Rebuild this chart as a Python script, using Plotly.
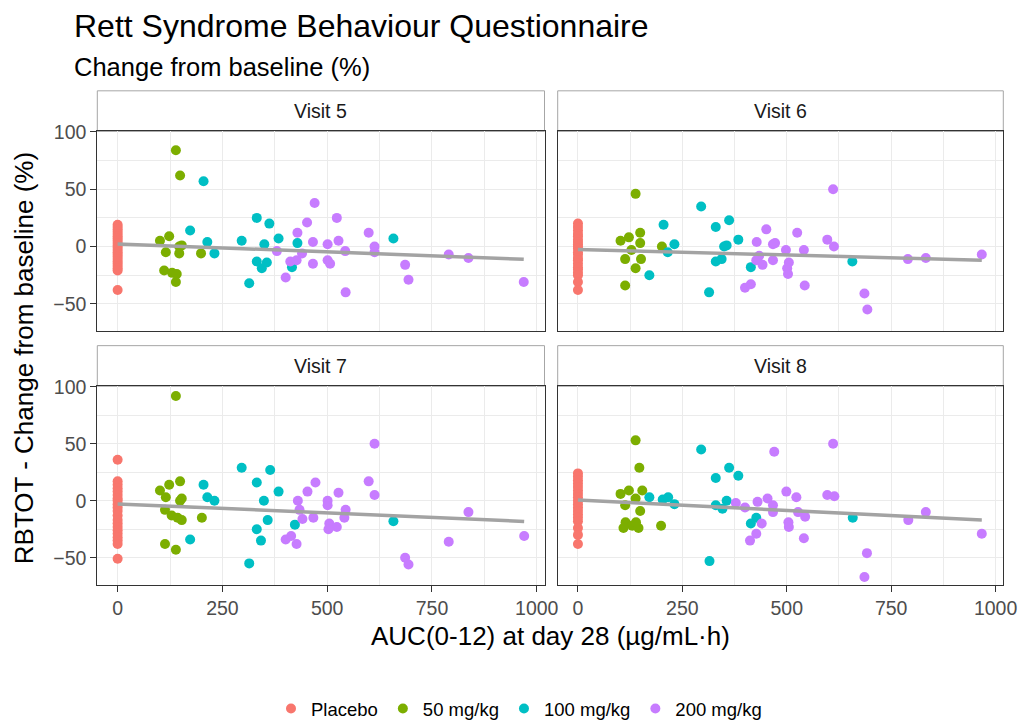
import numpy as np
import plotly.graph_objects as go

# ---------------------------------------------------------------------------
# Data: RBTOT change from baseline (%) against AUC(0-12) at day 28
# ---------------------------------------------------------------------------
visits = ["Visit 5", "Visit 6", "Visit 7", "Visit 8"]
groups = ["Placebo", "50 mg/kg", "100 mg/kg", "200 mg/kg"]
group_colors = ["#F8766D", "#7CAE00", "#00BFC4", "#C77CFF"]

# Placebo subjects have no exposure (AUC = 0); change values only
placebo_v5 = [19, 17, 15, 13, 11, 9, 7, 5, 3, 1, -1, -3, -5, -7, -9, -11, -13, -15, -17, -19, -21, -38]
placebo_v6 = [20, 17, 14, 11, 9, 6, 4, 2, 0, -2, -5, -7, -10, -12, -15, -18, -20, -23, -25, -31, -38]
placebo_v7 = [36, 17, 14, 11, 8, 5, 2, 0, -3, -6, -9, -13, -17, -20, -23, -26, -29, -32, -35, -38, -51]
placebo_v8 = [24, 21, 18, 15, 12, 9, 6, 3, 0, -3, -6, -9, -12, -15, -18, -24, -30, -38]

# Active doses: (AUC, change %) per subject
dose50_v5 = [(139, 84), (149, 62), (101, 5), (123, 9), (115, -5), (147, 0), (153, 1), (147, -6),
             (199, -6), (111, -21), (130, -23), (141, -24), (139, -31)]
dose100_v5 = [(205, 57), (173, 14), (214, 4), (231, -6), (296, 5), (332, 25), (362, 20), (350, 2),
              (384, 7), (332, -13), (344, -19), (356, -14), (314, -32), (416, -18), (429, 3), (658, 7)]
dose200_v5 = [(470, 38), (452, 21), (523, 25), (429, 12), (466, 4), (501, 2), (527, 5), (380, -4),
              (412, -13), (427, -12), (440, -6), (466, -15), (501, -12), (507, -15), (543, -4),
              (599, 12), (613, 0), (613, -5), (686, -16), (694, -29), (401, -27), (544, -40),
              (790, -7), (837, -10), (969, -31)]

dose50_v6 = [(138, 46), (102, 5), (122, 8), (149, 12), (149, 3), (201, 0), (128, -3), (113, -11),
             (151, -11), (138, -19), (113, -34)]
dose100_v6 = [(295, 35), (330, 17), (362, 23), (205, 19), (231, 2), (215, -5), (350, 0), (356, 1),
              (384, 6), (330, -13), (344, -11), (414, -18), (171, -25), (314, -40), (657, -13)]
dose200_v6 = [(611, 50), (451, 15), (525, 12), (428, 4), (467, 2), (472, 3), (498, -3), (541, -3),
              (434, -8), (427, -12), (442, -16), (467, -12), (505, -14), (501, -19), (503, -24),
              (400, -36), (414, -33), (543, -34), (597, 6), (613, 0), (686, -41), (693, -55),
              (790, -11), (833, -10), (967, -7)]

dose50_v7 = [(139, 92), (101, 9), (123, 14), (149, 17), (115, 3), (153, 2), (149, 0), (113, -8),
             (129, -13), (143, -15), (153, -17), (201, -15), (113, -38), (139, -43)]
dose100_v7 = [(296, 29), (364, 27), (332, 16), (205, 14), (214, 3), (231, 0), (384, 8), (349, 0),
              (358, -17), (332, -25), (342, -35), (173, -34), (314, -55), (423, -21), (658, -18)]
dose200_v7 = [(613, 50), (599, 17), (613, 5), (472, 16), (453, 8), (527, 7), (430, 0), (501, 0),
              (501, -4), (434, -8), (441, -16), (467, -15), (544, -8), (541, -15), (505, -20),
              (523, -23), (503, -25), (401, -34), (414, -31), (427, -38), (686, -50), (694, -56),
              (790, -36), (837, -10), (970, -31)]

dose50_v8 = [(138, 53), (147, 29), (102, 6), (122, 9), (154, 9), (138, 2), (113, -4), (149, -9),
             (114, -19), (130, -22), (145, -24), (109, -24), (139, -19), (199, -22)]
dose100_v8 = [(295, 45), (362, 29), (330, 20), (384, 22), (171, 3), (203, 1), (216, 3), (231, -3),
              (330, -4), (346, -7), (356, 0), (427, -15), (414, -20), (315, -53), (658, -15)]
dose200_v8 = [(611, 50), (470, 43), (499, 8), (523, 3), (597, 5), (614, 4), (378, -2), (400, -6),
              (430, -1), (454, 2), (467, -4), (467, -10), (527, -10), (544, -14), (440, -20),
              (504, -19), (505, -23), (427, -29), (412, -35), (541, -33), (692, -46), (686, -67),
              (791, -17), (833, -10), (967, -29)]

# Linear trend per visit (change % = intercept + slope * AUC)
fit_intercept = [2.3, -2.5, -2.8, 0.6]
fit_slope = [-0.0139, -0.0098, -0.0158, -0.0182]

x_ticks = [0, 250, 500, 750, 1000]
y_ticks = [-50, 0, 50, 100]

# ---------------------------------------------------------------------------
placebo_by_visit = [placebo_v5, placebo_v6, placebo_v7, placebo_v8]
dose50_by_visit = [dose50_v5, dose50_v6, dose50_v7, dose50_v8]
dose100_by_visit = [dose100_v5, dose100_v6, dose100_v7, dose100_v8]
dose200_by_visit = [dose200_v5, dose200_v6, dose200_v7, dose200_v8]

W, H = 1021, 728
FONT = "Liberation Sans, Arial, Helvetica, sans-serif"


def fx(px):
    return px / W


def fy(py):
    return 1 - py / H


col_px = [(97.3, 544.5), (557.7, 1003.3)]
row_px = [(132.7, 334.5), (390.0, 590.7)]
STRIP_H = 41

fig = go.Figure()
layout_axes = {}
shapes = []
annotations = []

for i, visit in enumerate(visits):
    row, col = divmod(i, 2)
    xa = "x" if i == 0 else f"x{i + 1}"
    ya = "y" if i == 0 else f"y{i + 1}"

    series = [
        [(0, v) for v in placebo_by_visit[i]],
        dose50_by_visit[i],
        dose100_by_visit[i],
        dose200_by_visit[i],
    ]
    all_x = []
    for g, pts in enumerate(series):
        xs = [p[0] for p in pts]
        ys = [p[1] for p in pts]
        all_x += xs
        fig.add_trace(go.Scatter(
            x=xs, y=ys, mode="markers", xaxis=xa, yaxis=ya,
            name=groups[g], legendgroup=groups[g], showlegend=(i == 0),
            marker=dict(color=group_colors[g], size=10, line=dict(width=0)),
            hoverinfo="x+y+name",
        ))

    # trend line over the observed AUC range
    xl = np.array([min(all_x), max(all_x)], dtype=float)
    yl = fit_intercept[i] + fit_slope[i] * xl
    fig.add_trace(go.Scatter(
        x=xl, y=yl, mode="lines", xaxis=xa, yaxis=ya, showlegend=False,
        line=dict(color="#a3a3a3", width=3.5), hoverinfo="skip",
    ))

    bottom = row == 1
    left = col == 0
    xd = [fx(col_px[col][0]), fx(col_px[col][1])]
    yd = [fy(row_px[row][1]), fy(row_px[row][0])]

    layout_axes["xaxis" if i == 0 else f"xaxis{i + 1}"] = dict(
        domain=xd, anchor=ya, range=[-48.5, 1018.5],
        tickmode="array", tickvals=x_ticks,
        showticklabels=bottom, ticks="outside" if bottom else "",
        ticklen=6, tickwidth=1.2, tickcolor="#333333",
        tickfont=dict(family=FONT, size=19.5, color="#4d4d4d"),
        showgrid=True, gridcolor="#ebebeb", gridwidth=1.2,
        minor=dict(tickmode="array", tickvals=[125, 375, 625, 875],
                   showgrid=True, gridcolor="#ebebeb", gridwidth=0.7, ticks=""),
        showline=True, mirror=True, linecolor="#333333", linewidth=1,
        zeroline=False, automargin=False,
    )
    layout_axes["yaxis" if i == 0 else f"yaxis{i + 1}"] = dict(
        domain=yd, anchor=xa, range=[-74, 100.5],
        tickmode="array", tickvals=y_ticks,
        showticklabels=left, ticks="outside" if left else "",
        ticklen=6, tickwidth=1.2, tickcolor="#333333",
        tickfont=dict(family=FONT, size=19.5, color="#4d4d4d"),
        showgrid=True, gridcolor="#ebebeb", gridwidth=1.2,
        minor=dict(tickmode="array", tickvals=[-25, 25, 75],
                   showgrid=True, gridcolor="#ebebeb", gridwidth=0.7, ticks=""),
        showline=True, mirror=True, linecolor="#333333", linewidth=1,
        zeroline=False, automargin=False,
    )

    # facet strip
    s_top = row_px[row][0] - STRIP_H
    shapes.append(dict(
        type="rect", xref="paper", yref="paper", layer="below",
        x0=xd[0], x1=xd[1], y0=fy(row_px[row][0]), y1=fy(s_top),
        fillcolor="white", line=dict(color="#a6a6a6", width=1),
    ))
    annotations.append(dict(
        text=visit, xref="paper", yref="paper", showarrow=False,
        x=(xd[0] + xd[1]) / 2, y=fy(s_top + STRIP_H / 2),
        xanchor="center", yanchor="middle",
        font=dict(family=FONT, size=19.5, color="#1a1a1a"),
    ))

# titles
annotations += [
    dict(text="Rett Syndrome Behaviour Questionnaire", xref="paper", yref="paper",
         x=fx(72), y=fy(26), xanchor="left", yanchor="middle", showarrow=False,
         font=dict(family=FONT, size=32, color="#000000")),
    dict(text="Change from baseline (%)", xref="paper", yref="paper",
         x=fx(72), y=fy(68), xanchor="left", yanchor="middle", showarrow=False,
         font=dict(family=FONT, size=25.5, color="#000000")),
    dict(text="AUC(0-12) at day 28 (µg/mL·h)", xref="paper", yref="paper",
         x=fx((col_px[0][0] + col_px[1][1]) / 2), y=fy(642), xanchor="center", yanchor="middle",
         showarrow=False, font=dict(family=FONT, size=26, color="#000000")),
    dict(text="RBTOT - Change from baseline (%)", xref="paper", yref="paper",
         x=fx(24), y=fy((row_px[0][0] + row_px[1][1]) / 2), xanchor="center", yanchor="middle",
         textangle=-90, showarrow=False, font=dict(family=FONT, size=26, color="#000000")),
]

fig.update_layout(
    width=W, height=H,
    margin=dict(l=0, r=0, t=0, b=0),
    paper_bgcolor="white", plot_bgcolor="white",
    shapes=shapes, annotations=annotations,
    showlegend=True,
    legend=dict(orientation="h", x=fx(519), xanchor="center", y=fy(716), yanchor="middle",
                font=dict(family=FONT, size=18.5, color="#000000"),
                bgcolor="rgba(0,0,0,0)", itemwidth=30),
    **layout_axes,
)

fig.write_html("out.html")
